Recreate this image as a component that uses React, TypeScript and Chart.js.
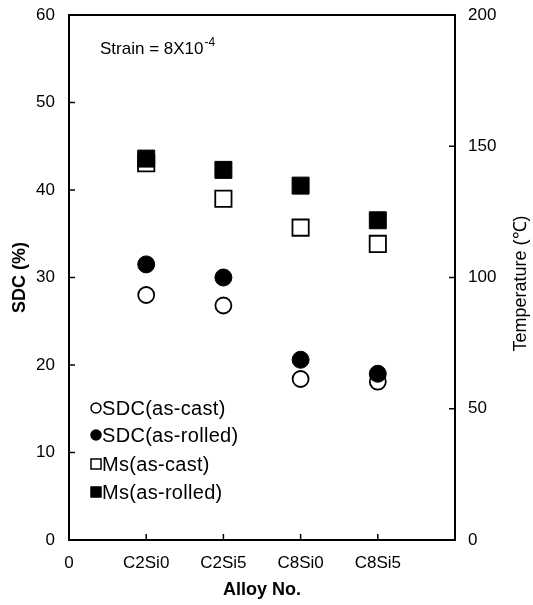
import React, { useEffect, useRef } from 'react';
import { Chart, registerables } from 'chart.js';

Chart.register(...registerables);

// Alloy designations and their positions along the x axis
const alloys = ['C2Si0', 'C2Si5', 'C8Si0', 'C8Si5'];
const alloyPos = [1, 2, 3, 4];

// Shape-deformation capability, % (left axis)
const sdcCast = [28.0, 26.8, 18.4, 18.1];
const sdcRolled = [31.5, 30.0, 20.6, 19.0];

// Ms temperature, deg C (right axis)
const msCast = [143.5, 130.0, 119.0, 112.8];
const msRolled = [145.3, 141.0, 135.0, 121.8];

// Axis ranges and tick steps
const sdcRange = [0, 60, 10];
const tempRange = [0, 200, 50];
const xRange = [0, 5];

const FONT = "'Liberation Sans', Arial, sans-serif";

const toPoints = (ys: number[]) => ys.map((y, i) => ({ x: alloyPos[i], y }));

// Vertical axes: fixed width, and no extra room reserved above/below for end labels
const fitVertical = (width: number) => (s: any) => {
  s.width = width;
  s.paddingTop = 0;
  s.paddingBottom = 0;
};

// Frame, inward tick marks, right-hand title, in-plot legend and strain note
const decorations = {
  id: 'decorations',
  afterDraw(chart: any) {
    const { ctx, chartArea } = chart;
    const { left, right, top, bottom } = chartArea;
    ctx.save();
    ctx.strokeStyle = '#000';
    ctx.lineWidth = 2;
    ctx.strokeRect(left, top, right - left, bottom - top);

    ctx.lineWidth = 1.5;
    const tick = 6;
    const yL = chart.scales.y;
    yL.ticks.forEach((t: any) => {
      if (t.value === sdcRange[0] || t.value === sdcRange[1]) return;
      const py = yL.getPixelForValue(t.value);
      ctx.beginPath();
      ctx.moveTo(left, py);
      ctx.lineTo(left + tick, py);
      ctx.stroke();
    });
    const yR = chart.scales.y1;
    yR.ticks.forEach((t: any) => {
      if (t.value === tempRange[0] || t.value === tempRange[1]) return;
      const py = yR.getPixelForValue(t.value);
      ctx.beginPath();
      ctx.moveTo(right, py);
      ctx.lineTo(right - tick, py);
      ctx.stroke();
    });
    const xs = chart.scales.x;
    alloyPos.forEach((v) => {
      const px = xs.getPixelForValue(v);
      ctx.beginPath();
      ctx.moveTo(px, bottom);
      ctx.lineTo(px, bottom - tick);
      ctx.stroke();
    });

    // Right axis title, reading bottom to top
    ctx.save();
    ctx.translate(521, (top + bottom) / 2 + 6);
    ctx.rotate(-Math.PI / 2);
    ctx.fillStyle = '#000';
    ctx.textAlign = 'center';
    ctx.textBaseline = 'middle';
    ctx.font = `18px ${FONT}`;
    ctx.fillText('Temperature (℃)', 0, 0);
    ctx.restore();

    // Legend
    ctx.textBaseline = 'middle';
    ctx.textAlign = 'left';
    const rowY = [408, 435, 464, 492];
    const mx = left + 27;
    chart.data.datasets.forEach((ds: any, i: number) => {
      const y = rowY[i];
      ctx.beginPath();
      ctx.lineWidth = 1.5;
      ctx.strokeStyle = '#000';
      ctx.fillStyle = ds.backgroundColor;
      if (ds.pointStyle === 'circle') {
        ctx.arc(mx, y, 5, 0, Math.PI * 2);
      } else {
        ctx.rect(mx - 5, y - 5, 10, 10);
      }
      ctx.fill();
      ctx.stroke();
      ctx.fillStyle = '#000';
      ctx.font = `20px ${FONT}`;
      (ctx as any).letterSpacing = '0.3px';
      ctx.fillText(ds.label, mx + 6, y + 1);
      (ctx as any).letterSpacing = '0px';
    });

    // Strain note with superscript exponent
    ctx.fillStyle = '#000';
    ctx.font = `17px ${FONT}`;
    ctx.textBaseline = 'alphabetic';
    const base = 'Strain = 8X10';
    const nx = left + 31;
    const ny = top + 39;
    ctx.fillText(base, nx, ny);
    const w = ctx.measureText(base).width;
    ctx.font = `12px ${FONT}`;
    ctx.fillText('-4', nx + w + 1, ny - 8);
    ctx.restore();
  },
};

export default function App() {
  const ref = useRef<HTMLCanvasElement>(null);

  useEffect(() => {
    if (!ref.current) return;
    const chart = new Chart(ref.current, {
      type: 'scatter',
      data: {
        datasets: [
          {
            label: 'SDC(as-cast)',
            data: toPoints(sdcCast),
            yAxisID: 'y',
            order: 1,
            pointStyle: 'circle',
            pointRadius: 8,
            borderWidth: 1.8,
            borderColor: '#000',
            backgroundColor: '#fff',
          },
          {
            label: 'SDC(as-rolled)',
            data: toPoints(sdcRolled),
            yAxisID: 'y',
            order: 0,
            pointStyle: 'circle',
            pointRadius: 8.5,
            borderWidth: 1,
            borderColor: '#000',
            backgroundColor: '#000',
          },
          {
            label: 'Ms(as-cast)',
            data: toPoints(msCast),
            yAxisID: 'y1',
            order: 1,
            pointStyle: 'rect',
            pointRadius: 11.5,
            borderWidth: 1.8,
            borderColor: '#000',
            backgroundColor: '#fff',
          },
          {
            label: 'Ms(as-rolled)',
            data: toPoints(msRolled),
            yAxisID: 'y1',
            order: 0,
            pointStyle: 'rect',
            pointRadius: 12,
            borderWidth: 1,
            borderColor: '#000',
            backgroundColor: '#000',
          },
        ] as any,
      },
      options: {
        animation: false,
        responsive: false,
        maintainAspectRatio: false,
        layout: { autoPadding: false, padding: { top: 15, left: 0, right: 0, bottom: 0 } },
        plugins: { legend: { display: false }, tooltip: { enabled: false } },
        scales: {
          x: {
            type: 'linear',
            min: xRange[0],
            max: xRange[1],
            afterBuildTicks: (s: any) => {
              s.ticks = [0, ...alloyPos].map((v) => ({ value: v }));
            },
            afterFit: (s: any) => {
              s.height = 65;
            },
            grid: { display: false, drawTicks: false },
            border: { display: false },
            ticks: {
              padding: 13,
              color: '#000',
              font: { family: FONT, size: 17 },
              maxRotation: 0,
              autoSkip: false,
              callback: (v: any) => (v === 0 ? '0' : alloys[alloyPos.indexOf(v)] ?? ''),
            },
            title: {
              display: true,
              text: 'Alloy No.',
              color: '#000',
              font: { family: FONT, size: 18, weight: 'bold' },
              padding: { top: 0, bottom: 4 },
            },
          },
          y: {
            position: 'left',
            min: sdcRange[0],
            max: sdcRange[1],
            afterFit: fitVertical(69),
            grid: { display: false, drawTicks: false },
            border: { display: false },
            ticks: {
              stepSize: sdcRange[2],
              padding: 14,
              color: '#000',
              font: { family: FONT, size: 17 },
            },
            title: {
              display: true,
              text: 'SDC (%)',
              color: '#000',
              font: { family: FONT, size: 18, weight: 'bold' },
              padding: { top: 9, bottom: 0 },
            },
          },
          y1: {
            position: 'right',
            min: tempRange[0],
            max: tempRange[1],
            afterFit: fitVertical(78),
            grid: { display: false, drawTicks: false },
            border: { display: false },
            ticks: {
              stepSize: tempRange[2],
              padding: 13,
              color: '#000',
              font: { family: FONT, size: 17 },
            },
          },
        },
      } as any,
      plugins: [decorations],
    });
    return () => chart.destroy();
  }, []);

  return (
    <div style={{ position: 'fixed', left: 0, top: 0, width: 533, height: 605, background: '#fff' }}>
      <canvas ref={ref} width={533} height={605} style={{ display: 'block' }} />
    </div>
  );
}
